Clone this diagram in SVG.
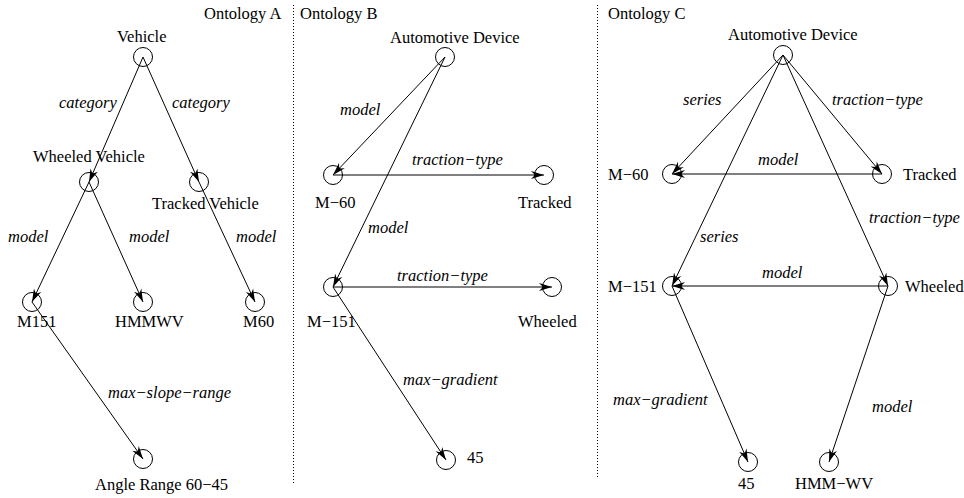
<svg xmlns="http://www.w3.org/2000/svg" width="964" height="498" viewBox="0 0 964 498">
  <style>
    text { font-family: "Liberation Serif", "Times New Roman", serif; font-size: 16.5px; fill: #000; }
    .rel { font-style: italic; }
    .node circle { fill: none; stroke: #000; stroke-width: 1; }
    .edge line { stroke: #000; stroke-width: 1; marker-end: url(#arrow); }
    .sep { stroke: #000; stroke-width: 1; stroke-dasharray: 1 2; }
  </style>
  <defs>
    <marker id="arrow" markerUnits="userSpaceOnUse" markerWidth="13" markerHeight="8" refX="13" refY="4" orient="auto" overflow="visible">
      <path d="M0,0 L13,4 L0,8 L4,4 Z" fill="#000"/>
    </marker>
  </defs>

  <rect width="964" height="498" fill="#fff"/>

  <!-- panel separators and titles -->
  <line class="sep" x1="293.5" y1="5" x2="293.5" y2="483"/>
  <line class="sep" x1="597.5" y1="5" x2="597.5" y2="478"/>
  <text x="204" y="19">Ontology A</text>
  <text x="300" y="19">Ontology B</text>
  <text x="608" y="19">Ontology C</text>

  <!-- connectors -->
  <g id="connectors">
    <!-- Ontology A -->
    <g class="edge"><line x1="143" y1="57" x2="89" y2="182"/><text class="rel" x="59" y="108">category</text></g>
    <g class="edge"><line x1="143" y1="57" x2="199" y2="182"/><text class="rel" x="172" y="108">category</text></g>
    <g class="edge"><line x1="89" y1="182" x2="32" y2="302"/><text class="rel" x="8" y="242">model</text></g>
    <g class="edge"><line x1="89" y1="182" x2="143" y2="302"/><text class="rel" x="129" y="242">model</text></g>
    <g class="edge"><line x1="199" y1="182" x2="255" y2="302"/><text class="rel" x="236" y="242">model</text></g>
    <g class="edge"><line x1="32" y1="302" x2="143" y2="459"/><text class="rel" x="108" y="398">max−slope−range</text></g>

    <!-- Ontology B -->
    <g class="edge"><line x1="445" y1="57" x2="333" y2="175"/><text class="rel" x="340" y="115">model</text></g>
    <g class="edge"><line x1="445" y1="57" x2="333" y2="287"/><text class="rel" x="368" y="233">model</text></g>
    <g class="edge"><line x1="333" y1="175" x2="544" y2="175"/><text class="rel" x="412" y="165">traction−type</text></g>
    <g class="edge"><line x1="333" y1="287" x2="552" y2="287"/><text class="rel" x="397" y="281">traction−type</text></g>
    <g class="edge"><line x1="333" y1="287" x2="446" y2="460"/><text class="rel" x="403" y="385">max−gradient</text></g>

    <!-- Ontology C -->
    <g class="edge"><line x1="783" y1="55" x2="672" y2="174"/><text class="rel" x="683" y="105">series</text></g>
    <g class="edge"><line x1="783" y1="55" x2="882" y2="174"/><text class="rel" x="832" y="105">traction−type</text></g>
    <g class="edge"><line x1="882" y1="174" x2="672" y2="174"/><text class="rel" x="758" y="165">model</text></g>
    <g class="edge"><line x1="783" y1="55" x2="672" y2="286"/><text class="rel" x="700" y="242">series</text></g>
    <g class="edge"><line x1="783" y1="55" x2="888" y2="286"/><text class="rel" x="869" y="223">traction−type</text></g>
    <g class="edge"><line x1="888" y1="286" x2="672" y2="286"/><text class="rel" x="762" y="278">model</text></g>
    <g class="edge"><line x1="672" y1="286" x2="748" y2="462"/><text class="rel" x="613" y="405">max−gradient</text></g>
    <g class="edge"><line x1="888" y1="286" x2="829" y2="462"/><text class="rel" x="872" y="412">model</text></g>
  </g>

  <!-- Ontology A nodes -->
  <g id="a-vehicle" class="node"><circle cx="143" cy="57" r="9.5"/><text x="117" y="42">Vehicle</text></g>
  <g id="a-wheeled-vehicle" class="node"><circle cx="89" cy="182" r="9.5"/><text x="33" y="162">Wheeled Vehicle</text></g>
  <g id="a-tracked-vehicle" class="node"><circle cx="199" cy="182" r="9.5"/><text x="152" y="209">Tracked Vehicle</text></g>
  <g id="a-m151" class="node"><circle cx="32" cy="302" r="9.5"/><text x="17" y="327">M151</text></g>
  <g id="a-hmmwv" class="node"><circle cx="143" cy="302" r="9.5"/><text x="115" y="327">HMMWV</text></g>
  <g id="a-m60" class="node"><circle cx="255" cy="302" r="9.5"/><text x="243" y="327">M60</text></g>
  <g id="a-angle-range" class="node"><circle cx="143" cy="459" r="9.5"/><text x="95" y="490">Angle Range 60−45</text></g>

  <!-- Ontology B nodes -->
  <g id="b-automotive-device" class="node"><circle cx="445" cy="57" r="9.5"/><text x="390" y="43">Automotive Device</text></g>
  <g id="b-m60" class="node"><circle cx="333" cy="175" r="9.5"/><text x="315" y="208">M−60</text></g>
  <g id="b-tracked" class="node"><circle cx="544" cy="175" r="9.5"/><text x="518" y="208">Tracked</text></g>
  <g id="b-m151" class="node"><circle cx="333" cy="287" r="9.5"/><text x="307" y="327">M−151</text></g>
  <g id="b-wheeled" class="node"><circle cx="552" cy="287" r="9.5"/><text x="518" y="327">Wheeled</text></g>
  <g id="b-45" class="node"><circle cx="446" cy="460" r="9.5"/><text x="467" y="463">45</text></g>

  <!-- Ontology C nodes -->
  <g id="c-automotive-device" class="node"><circle cx="783" cy="55" r="9.5"/><text x="728" y="40">Automotive Device</text></g>
  <g id="c-m60" class="node"><circle cx="672" cy="174" r="9.5"/><text x="608" y="180">M−60</text></g>
  <g id="c-tracked" class="node"><circle cx="882" cy="174" r="9.5"/><text x="903" y="180">Tracked</text></g>
  <g id="c-m151" class="node"><circle cx="672" cy="286" r="9.5"/><text x="608" y="292">M−151</text></g>
  <g id="c-wheeled" class="node"><circle cx="888" cy="286" r="9.5"/><text x="905" y="292">Wheeled</text></g>
  <g id="c-45" class="node"><circle cx="748" cy="462" r="9.5"/><text x="738" y="489">45</text></g>
  <g id="c-hmm-wv" class="node"><circle cx="829" cy="462" r="9.5"/><text x="795" y="489">HMM−WV</text></g>
</svg>
